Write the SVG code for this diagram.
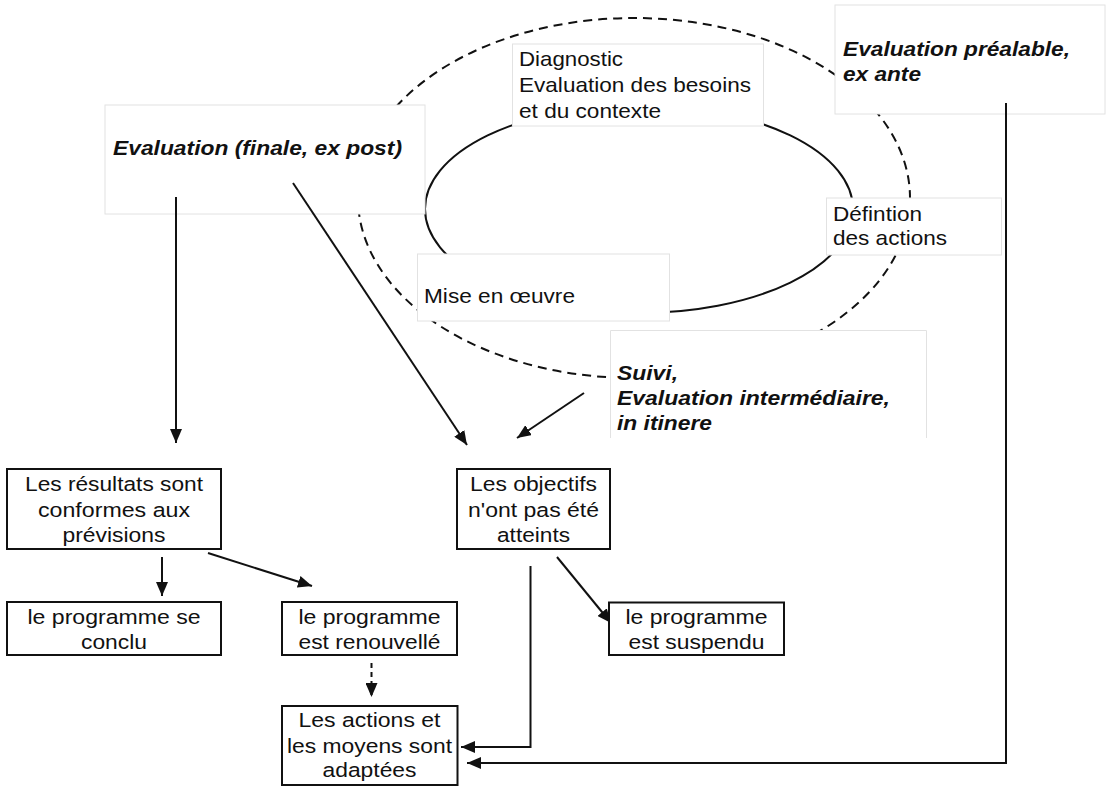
<svg xmlns="http://www.w3.org/2000/svg" width="1113" height="795" viewBox="0 0 1113 795">
<style>
.t{font-family:"Liberation Sans",Arial,sans-serif;fill:#111}
.up{font-size:21px}
.bi{font-size:21px;font-weight:bold;font-style:italic}
.lo{font-size:20.5px;text-anchor:middle}
.soft{fill:#fff;stroke:#e2e2e2;stroke-width:1}
.box{fill:#fff;stroke:#111;stroke-width:2}
.ln{fill:none;stroke:#111;stroke-width:2}
.dash{stroke-dasharray:9 6}
.sdash{stroke-dasharray:5 4}
</style>
<defs>
<marker id="ah" markerUnits="userSpaceOnUse" markerWidth="14" markerHeight="12" refX="14" refY="6" orient="auto" viewBox="0 0 14 12">
<path d="M0,0 L14,6 L0,12 z" fill="#111"/>
</marker>
</defs>
<rect width="1113" height="795" fill="#fff"/>
<g id="cycle">
<ellipse class="ln dash" cx="634" cy="198" rx="276" ry="180"/>
<ellipse class="ln" cx="639" cy="209" rx="214" ry="104"/>
</g>
<g id="n-eval-finale">
<rect class="soft" x="105" y="105" width="320" height="109"/>
<text class="t bi" x="113" y="155" textLength="289" lengthAdjust="spacingAndGlyphs">Evaluation (finale, ex post)</text>
</g>
<g id="n-diagnostic">
<rect class="soft" x="512.5" y="44" width="251" height="82"/>
<text class="t up" x="519" y="66" textLength="104" lengthAdjust="spacingAndGlyphs">Diagnostic</text>
<text class="t up" x="519" y="92" textLength="232" lengthAdjust="spacingAndGlyphs">Evaluation des besoins</text>
<text class="t up" x="519" y="118" textLength="142" lengthAdjust="spacingAndGlyphs">et du contexte</text>
</g>
<g id="n-definition">
<rect class="soft" x="826.5" y="198" width="175" height="57"/>
<text class="t up" x="833" y="221" textLength="89" lengthAdjust="spacingAndGlyphs">Défintion</text>
<text class="t up" x="833" y="245" textLength="114" lengthAdjust="spacingAndGlyphs">des actions</text>
</g>
<g id="n-mise">
<rect class="soft" x="417.5" y="254" width="252" height="67"/>
<text class="t up" x="424" y="303" textLength="151" lengthAdjust="spacingAndGlyphs">Mise en œuvre</text>
</g>
<g id="n-prealable">
<rect class="soft" x="835" y="5" width="270" height="109"/>
<text class="t bi" x="843" y="56" textLength="227" lengthAdjust="spacingAndGlyphs">Evaluation préalable,</text>
<text class="t bi" x="843" y="81" textLength="78" lengthAdjust="spacingAndGlyphs">ex ante</text>
</g>
<g id="n-suivi">
<rect x="610.5" y="330" width="316" height="108" fill="#fff"/>
<path d="M610.5,438 V330.5 H926.5 V438" fill="none" stroke="#e2e2e2" stroke-width="1"/>
<text class="t bi" x="617" y="380" textLength="61" lengthAdjust="spacingAndGlyphs">Suivi,</text>
<text class="t bi" x="617" y="405" textLength="273" lengthAdjust="spacingAndGlyphs">Evaluation intermédiaire,</text>
<text class="t bi" x="617" y="430" textLength="95" lengthAdjust="spacingAndGlyphs">in itinere</text>
</g>
<g id="connectors">
<line class="ln" x1="176" y1="197" x2="176" y2="443" marker-end="url(#ah)"/>
<line class="ln" x1="293" y1="183" x2="467" y2="445" marker-end="url(#ah)"/>
<line class="ln" x1="584" y1="393" x2="517" y2="438" marker-end="url(#ah)"/>
<line class="ln" x1="162" y1="557" x2="162" y2="596" marker-end="url(#ah)"/>
<line class="ln" x1="208" y1="553" x2="312" y2="586" marker-end="url(#ah)"/>
<line class="ln" x1="557" y1="557" x2="611" y2="623" marker-end="url(#ah)"/>
<polyline class="ln" points="530.5,566 530.5,747 461,747" marker-end="url(#ah)"/>
<polyline class="ln" points="1006,103 1006,763 467,763" marker-end="url(#ah)"/>
<line class="ln sdash" x1="371.5" y1="663" x2="371.5" y2="697" marker-end="url(#ah)"/>
</g>
<g id="n-resultats">
<rect class="box" x="7" y="469" width="214" height="80"/>
<text class="t lo" x="114" y="491" textLength="178" lengthAdjust="spacingAndGlyphs">Les résultats sont</text>
<text class="t lo" x="114" y="517" textLength="152" lengthAdjust="spacingAndGlyphs">conformes aux</text>
<text class="t lo" x="114" y="542" textLength="103" lengthAdjust="spacingAndGlyphs">prévisions</text>
</g>
<g id="n-conclu">
<rect class="box" x="7" y="602" width="214" height="53"/>
<text class="t lo" x="114" y="624" textLength="173" lengthAdjust="spacingAndGlyphs">le programme se</text>
<text class="t lo" x="114" y="649" textLength="66" lengthAdjust="spacingAndGlyphs">conclu</text>
</g>
<g id="n-renouvelle">
<rect class="box" x="282" y="602" width="175" height="53"/>
<text class="t lo" x="369.5" y="624" textLength="142" lengthAdjust="spacingAndGlyphs">le programme</text>
<text class="t lo" x="369.5" y="649" textLength="142" lengthAdjust="spacingAndGlyphs">est renouvellé</text>
</g>
<g id="n-objectifs">
<rect class="box" x="457" y="469" width="153" height="80"/>
<text class="t lo" x="533.5" y="491" textLength="127" lengthAdjust="spacingAndGlyphs">Les objectifs</text>
<text class="t lo" x="533.5" y="517" textLength="131" lengthAdjust="spacingAndGlyphs">n'ont pas été</text>
<text class="t lo" x="533.5" y="542" textLength="73" lengthAdjust="spacingAndGlyphs">atteints</text>
</g>
<g id="n-suspendu">
<rect class="box" x="609" y="602.5" width="175" height="52.5"/>
<text class="t lo" x="696.5" y="624" textLength="142" lengthAdjust="spacingAndGlyphs">le programme</text>
<text class="t lo" x="696.5" y="649" textLength="136" lengthAdjust="spacingAndGlyphs">est suspendu</text>
</g>
<g id="n-actions">
<rect class="box" x="282" y="706" width="175.5" height="79"/>
<text class="t lo" x="369.5" y="727" textLength="142" lengthAdjust="spacingAndGlyphs">Les actions et</text>
<text class="t lo" x="369.5" y="753" textLength="165" lengthAdjust="spacingAndGlyphs">les moyens sont</text>
<text class="t lo" x="369.5" y="777" textLength="94" lengthAdjust="spacingAndGlyphs">adaptées</text>
</g>
</svg>
